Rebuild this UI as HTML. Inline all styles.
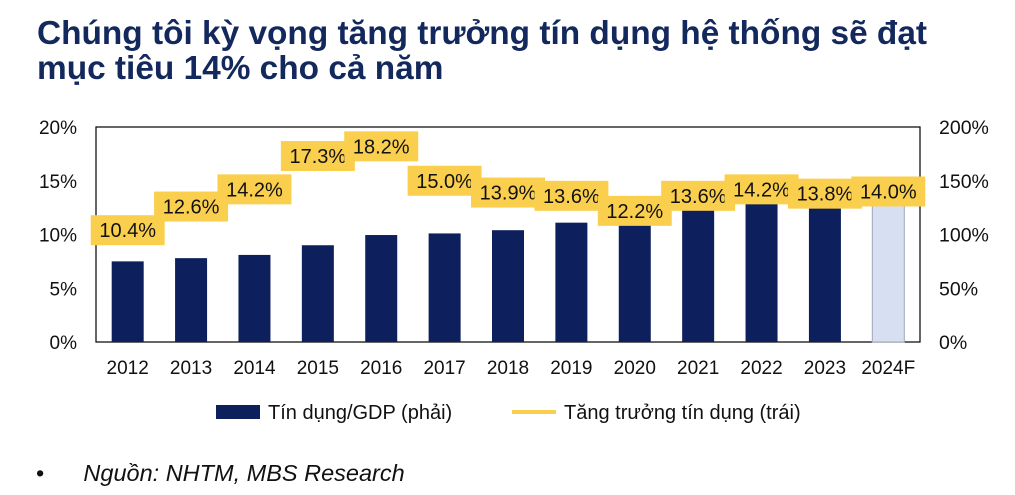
<!DOCTYPE html>
<html><head><meta charset="utf-8">
<style>
body{margin:0;background:#fff;width:1015px;height:495px;overflow:hidden;font-family:"Liberation Sans",sans-serif;}
#title{position:absolute;left:37px;top:16px;font-size:33.4px;font-weight:bold;color:#13285c;line-height:35px;}
#src{position:absolute;left:36px;top:460px;font-size:23.5px;color:#111;}
</style></head><body>
<div id="title">Chúng tôi kỳ vọng tăng trưởng tín dụng hệ thống sẽ đạt<br>mục tiêu 14% cho cả năm</div>
<svg id="chart" width="1015" height="495" style="position:absolute;left:0;top:0"></svg>
<div id="src">•&nbsp;&nbsp;&nbsp;&nbsp;&nbsp;&nbsp;<i>Nguồn: NHTM, MBS Research</i></div>
<script>
const categories=["2012","2013","2014","2015","2016","2017","2018","2019","2020","2021","2022","2023","2024F"];
const creditGdp=[75,78,81,90,99.5,101,104,111,125,133,132,134,134];
const growth=[10.4,12.6,14.2,17.3,18.2,15.0,13.9,13.6,12.2,13.6,14.2,13.8,14.0];
const leftTicks=[0,5,10,15,20];
const rightTicks=[0,50,100,150,200];
const svg=document.getElementById('chart');
const NS='http://www.w3.org/2000/svg';
const X0=96,X1=920,Y0=342,Y1=127;
const step=(X1-X0)/categories.length;
const xc=i=>X0+step*(i+0.5);
const yL=v=>Y0-v/20*(Y0-Y1);
const yR=v=>Y0-v/200*(Y0-Y1);
function mk(t,a,p){const e=document.createElementNS(NS,t);for(const k in a)e.setAttribute(k,a[k]);(p||svg).appendChild(e);return e;}
let fr=mk('rect',{x:X0,y:Y1,width:X1-X0,height:Y0-Y1,fill:'none',stroke:'#000','stroke-width':1.2});


leftTicks.forEach(v=>{let t=mk('text',{x:77,y:yL(v)+7,'text-anchor':'end','font-size':19,fill:'#111'});t.textContent=v+'%';

});
rightTicks.forEach(v=>{let t=mk('text',{x:939,y:yR(v)+7,'font-size':19.5,fill:'#111'});t.textContent=v+'%';

});
categories.forEach((c,i)=>{
 const last=i===categories.length-1;
 let b=mk('rect',{x:xc(i)-16,y:yR(creditGdp[i]),width:32,height:Y0-yR(creditGdp[i]),fill:last?'#d6e0f2':'#0d1f5c',stroke:last?'#a0a8b8':'none'});
 
 
 let t=mk('text',{x:xc(i),y:374,'text-anchor':'middle','font-size':19,fill:'#111'});t.textContent=c;
 
 
});
growth.forEach((v,i)=>{
 const y=yL(v);
 let r=mk('rect',{x:xc(i)-37,y:y-15,width:74,height:30,fill:'#fbcf4e'});
 
 
 let t=mk('text',{x:xc(i),y:y+7,'text-anchor':'middle','font-size':20,fill:'#111'});t.textContent=v.toFixed(1)+'%';
 
 
});
let l1=mk('rect',{x:216,y:405,width:44,height:14,fill:'#0d1f5c'});


let lt1=mk('text',{x:268,y:419,'font-size':20,fill:'#111'});lt1.textContent='Tín dụng/GDP (phải)';


let l2=mk('rect',{x:512,y:410,width:44,height:4,fill:'#fbcf4e'});


let lt2=mk('text',{x:564,y:419,'font-size':20,fill:'#111'});lt2.textContent='Tăng trưởng tín dụng (trái)';


</script>
</body></html>
